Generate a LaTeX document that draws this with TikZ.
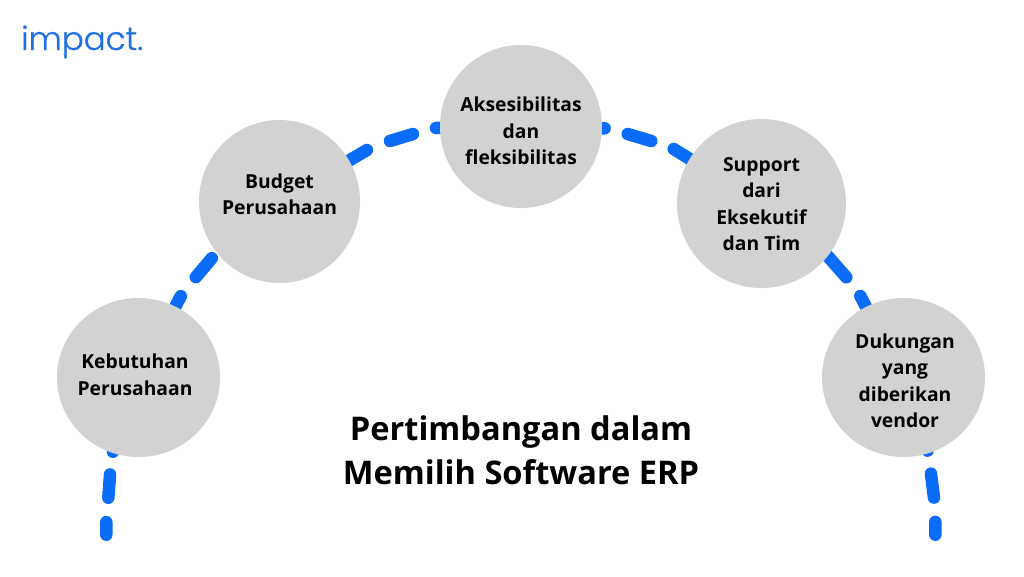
\documentclass[tikz,border=0pt]{standalone}
\usepackage{fontspec}
\usetikzlibrary{backgrounds,shapes.geometric}
\setmainfont{Open Sans}
\newfontfamily\logofont[FakeBold=0.6]{Poppins Light}
\definecolor{discgray}{HTML}{D2D2D2}
\definecolor{linkblue}{HTML}{0A6CF7}
\definecolor{logoblue}{HTML}{1F70E4}
\tikzset{
  disc/.style={ellipse,fill=discgray,draw=none,inner sep=0pt},
  lab/.style={align=center,inner sep=0pt,text=black,font=\bfseries\fontsize{19.3}{26.5}\selectfont},
  link/.style={draw=linkblue,line width=12.5pt,line cap=round,line join=round}
}
\begin{document}
\begin{tikzpicture}[x=1pt,y=-1pt]
\node[disc,minimum width=163pt,minimum height=159pt,label={[lab,xshift=-3.5pt,yshift=2.5pt]center:{Kebutuhan\\Perusahaan}}] (keb) at (138.5,377.5) {};
\node[disc,minimum width=161pt,minimum height=163pt,label={[lab,xshift=0pt,yshift=7pt]center:{Budget\\Perusahaan}}] (bud) at (279.5,201.5) {};
\node[disc,minimum width=162pt,minimum height=163pt,label={[lab,yshift=-4.5pt]center:{Aksesibilitas\\dan\\fleksibilitas}}] (aks) at (521,126.5) {};
\node[disc,minimum width=169pt,minimum height=169pt,label={[lab,yshift=-0.5pt]center:{Support\\dari\\Eksekutif\\dan Tim}}] (sup) at (761.5,203.5) {};
\node[disc,minimum width=163pt,minimum height=159pt,label={[lab,xshift=1.5pt,yshift=-3.5pt]center:{Dukungan\\yang\\diberikan\\vendor}}] (duk) at (903.5,377.5) {};
\node[align=center,inner sep=0pt,font=\bfseries\fontsize{32.6}{44}\selectfont] (title) at (521,450) {Pertimbangan dalam\\Memilih Software ERP};
\node[anchor=base west,inner sep=0pt,text=logoblue,font=\logofont\fontsize{32.5}{33}\selectfont] (logo) at (21,50) {impact.};
\coordinate (endL) at (106.3,534.7);
\coordinate (endR) at (935.3,534.7);
\begin{scope}[on background layer]
\path[use as bounding box,fill=white] (0,0) rectangle (1024,576);
\draw[link,dash pattern=on 78.5pt off 22.9pt on 23.4pt off 24.4pt on 30pt off 10pt] (keb.center) -- (113,451) -- (110,474.7) -- (108.3,498) -- (106.3,522.3) -- (endL);
\draw[link,dash pattern=on 91.7pt off 24.2pt on 24.8pt off 500pt] (keb.center) -- (180.7,296.3) -- (195.7,277.3) -- (211.7,258.3) -- (bud.center);
\draw[link,dash pattern=on 101.5pt off 24.7pt on 24pt off 23.8pt on 300pt off 10pt] (bud.center) -- (367,150) -- (390,141) -- (413,134) -- (436,128) -- (aks.center);
\draw[link,dash pattern=on 83.7pt off 23.7pt on 24.6pt off 23.8pt on 300pt off 10pt] (aks.center) -- (604.7,128.3) -- (627.7,134) -- (651.3,141) -- (673.7,149) -- (sup.center);
\draw[link,dash pattern=on 112.8pt off 23.4pt on 300pt off 10pt] (sup.center) -- (825,253) -- (846.3,277.3) -- (860.3,296) -- (duk.center);
\draw[link,dash pattern=on 77pt off 23.2pt on 24.2pt off 24.3pt on 30pt off 10pt] (duk.center) -- (927.7,451) -- (931,474) -- (934,498) -- (935.3,522.3) -- (endR);
\end{scope}
\end{tikzpicture}
\end{document}
